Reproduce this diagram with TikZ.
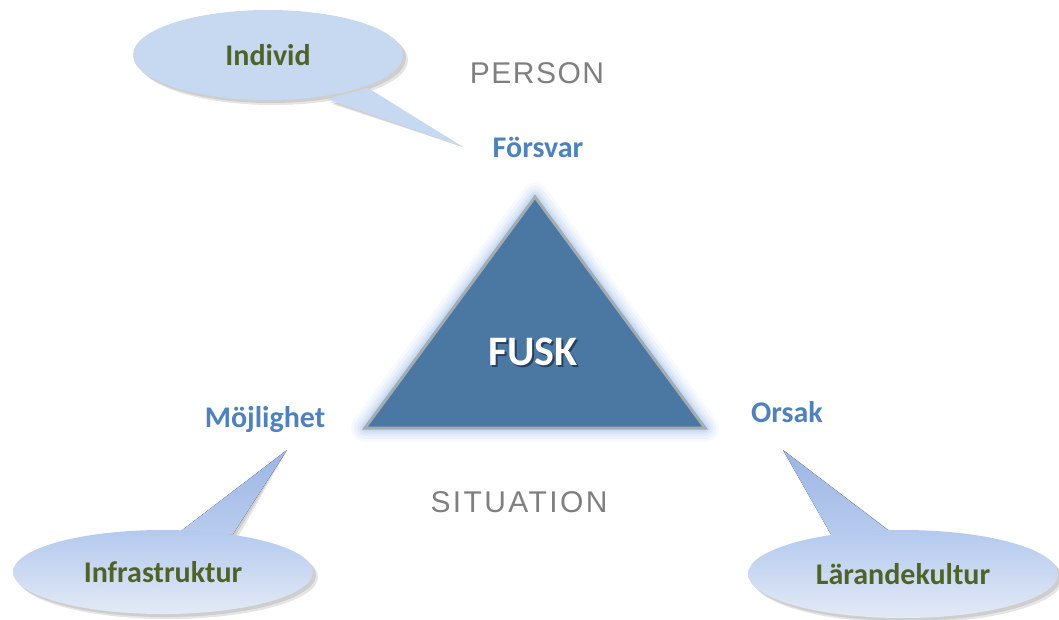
\documentclass[tikz,border=0pt]{standalone}
\usepackage{fontspec}
\setmainfont{Carlito}
\newfontfamily\personfont[LetterSpace=5]{Liberation Sans}
\newfontfamily\situationfont[LetterSpace=8]{Liberation Sans}
\usetikzlibrary{shapes.geometric,backgrounds}
\definecolor{lblue}{HTML}{4F81BD}
\definecolor{dgreen}{HTML}{4F6228}
\definecolor{trifill}{HTML}{4A78A3}
\definecolor{triedge}{HTML}{A3ABB3}
\definecolor{glowc}{HTML}{B4CCEE}
\definecolor{bubtop}{HTML}{B3C9EE}
\definecolor{bubbot}{HTML}{E3EAF6}
\definecolor{tailtip}{HTML}{9CB5E4}
\definecolor{tailbase}{HTML}{B8CCEE}
\definecolor{bubflat}{HTML}{C6D9F0}
\definecolor{graytxt}{HTML}{7F7F7F}
\begin{document}
\begin{tikzpicture}[x=1pt,y=-1pt,
  bubble/.style={ellipse, inner sep=0pt, text=dgreen, font=\fontsize{30}{34}\selectfont\bfseries},
  gradbub/.style={bubble, top color=bubtop, bottom color=bubbot},
  tailshade/.style={top color=tailtip, bottom color=tailbase},
  lbl/.style={text=lblue, font=\fontsize{30}{34}\selectfont\bfseries, inner sep=0pt},
  axis/.style={text=graytxt, inner sep=0pt},
  shadowc/.style={fill=black, opacity=0.10}]
\useasboundingbox (0,0) rectangle (1059,619);

% triangle
\coordinate (apex) at (535,197);
\coordinate (bl) at (365,428);
\coordinate (br) at (705,428);
\foreach \w/\o in {28/0.10,22/0.14,16/0.2,11/0.28,7/0.38}{
  \draw[glowc, line width=\w pt, opacity=\o, line join=round] (apex) -- (bl) -- (br) -- cycle;
}
\fill[trifill] (apex) -- (bl) -- (br) -- cycle;
\draw[triedge, line width=3pt, line join=miter] (apex) -- (bl) -- (br) -- cycle;
\node[text=black, opacity=0.45, font=\fontsize{42}{48}\selectfont\bfseries, inner sep=0pt] at (535,354) {FUSK};
\node[text=white, font=\fontsize{42}{48}\selectfont\bfseries, inner sep=0pt] (fusk) at (533,352) {FUSK};

% axis labels
\node[axis, font=\personfont\fontsize{30}{34}\selectfont] (person) at (537,73) {PERSON};
\node[axis, font=\situationfont\fontsize{30}{34}\selectfont] (situation) at (519,502) {SITUATION};

% corner labels
\node[lbl] (forsvar) at (538,147) {Försvar};
\node[lbl] (mojlighet) at (265,420) {Möjlighet};
\node[lbl] (orsak) at (787,412) {Orsak};

% bubbles
\node[bubble, fill=bubflat, minimum width=270pt, minimum height=90pt] (individ) at (268,55) {Individ};
\node[gradbub, minimum width=300pt, minimum height=84pt] (infra) at (163,572) {Infrastruktur};
\node[gradbub, minimum width=310pt, minimum height=88pt] (larande) at (903,574) {Lärandekultur};

\coordinate (individtip) at (463,147);
\coordinate (infratip) at (287,450);
\coordinate (larandetip) at (783,450);

\begin{scope}[on background layer]
  % shadows
  \foreach \d in {3,5}{
    \fill[shadowc] ([shift={(\d,\d)}]individ.center) ellipse [x radius=135pt, y radius=45pt];
    \fill[shadowc] ([shift={(\d,\d)}]infra.center) ellipse [x radius=150pt, y radius=42pt];
    \fill[shadowc] ([shift={(\d,\d)}]larande.center) ellipse [x radius=155pt, y radius=44pt];
    \fill[shadowc, shift={(\d,\d)}] (368,88) -- (individtip) -- (327,99) -- cycle;
    \fill[shadowc, shift={(\d,\d)}] (177,532) -- (infratip) -- (233,532) -- cycle;
    \fill[shadowc, shift={(\d,\d)}] (833,537) -- (larandetip) -- (893,532) -- cycle;
  }
  % tails
  \fill[bubflat] (368,88) -- (individtip) -- (327,99) -- cycle;
  \fill[tailshade] (177,534) -- (infratip) -- (233,534) -- cycle;
  \fill[tailshade] (833,538) -- (larandetip) -- (893,534) -- cycle;
\end{scope}
\end{tikzpicture}
\end{document}
